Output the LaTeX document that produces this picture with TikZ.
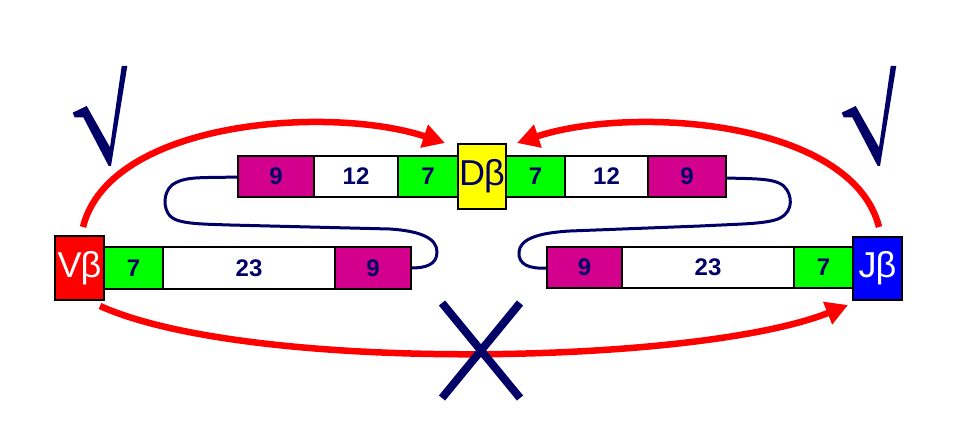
\documentclass[tikz,border=0pt]{standalone}
\usepackage{fontspec}
\setmainfont{Liberation Sans}
\usetikzlibrary{arrows.meta}
\definecolor{navy}{RGB}{0,0,102}
\definecolor{seg9}{RGB}{210,0,140}
\definecolor{segG}{RGB}{0,255,0}
\definecolor{redA}{RGB}{255,0,0}
\definecolor{blueJ}{RGB}{0,0,255}
\definecolor{yelD}{RGB}{255,255,0}
\begin{document}
\begin{tikzpicture}[x=1pt,y=-1pt,
  seg/.style={draw=black,line width=1.1pt,inner sep=0pt,outer sep=0pt,minimum height=42pt,
    text=navy,font=\fontsize{24}{24}\selectfont\bfseries},
  gene/.style={draw=black,line width=1.1pt,inner sep=0pt,outer sep=0pt,
    font=\fontsize{36}{36}\selectfont},
  loopline/.style={draw=navy,line width=3pt,line cap=round},
  redarrow/.style={draw=redA,line width=6.5pt,-{Triangle[length=22pt,width=23pt]}},
  checkmark/.style={fill=navy,draw=none},
  crossline/.style={draw=navy,line width=8pt}]
\useasboundingbox (0,0) rectangle (960,422);
% loops (behind boxes)
\draw[loopline] (238,177) .. controls (200,178) and (185,176) .. (172,185)
  .. controls (163,193) and (163,208) .. (170,216)
  .. controls (178,224) and (200,224) .. (230,225) -- (390,229)
  .. controls (420,231) and (437,238) .. (437,252)
  .. controls (437,265) and (425,268) .. (411,268);
\draw[loopline] (726,178) .. controls (760,179) and (780,178) .. (787,190)
  .. controls (793,200) and (792,215) .. (775,220)
  .. controls (760,224) and (740,224) .. (700,226) -- (570,231)
  .. controls (535,233) and (520,240) .. (519,252)
  .. controls (518,265) and (530,269) .. (547,268);
% left bottom row
\node[gene,fill=redA,text=white,minimum width=49pt,minimum height=64pt] (V) at (79.5,268) {V\kern-1pt β};
\node[seg,fill=segG,minimum width=59pt] (L7) at (133.5,268) {7};
\node[seg,fill=white,minimum width=172pt] (L23) at (249,268) {23};
\node[seg,fill=seg9,minimum width=76pt] (L9) at (373,268) {9};
% top row
\node[seg,fill=seg9,minimum width=76pt,minimum height=41pt] (T9a) at (276,176.5) {9};
\node[seg,fill=white,minimum width=84pt,minimum height=41pt] (T12a) at (356,176.5) {12};
\node[seg,fill=segG,minimum width=60pt,minimum height=41pt] (T7a) at (428,176.5) {7};
\node[seg,fill=segG,minimum width=59pt,minimum height=41pt] (T7b) at (535.5,176.5) {7};
\node[seg,fill=white,minimum width=83pt,minimum height=41pt] (T12b) at (606.5,176.5) {12};
\node[seg,fill=seg9,minimum width=78pt,minimum height=41pt] (T9b) at (687,176.5) {9};
\node[gene,fill=yelD,text=navy,minimum width=48pt,minimum height=65pt] (D) at (482,176.5) {D\kern-1pt β};
% right bottom row
\node[seg,fill=seg9,minimum width=75pt,minimum height=41pt] (R9) at (584.5,267.5) {9};
\node[seg,fill=white,minimum width=172pt,minimum height=41pt] (R23) at (708,267.5) {23};
\node[seg,fill=segG,minimum width=59pt,minimum height=41pt] (R7) at (823.5,267.5) {7};
\node[gene,fill=blueJ,text=white,minimum width=49pt,minimum height=63pt] (J) at (877.5,268.5) {J\kern-1pt β};
% red arrows
\coordinate (vs) at (83,227);
\coordinate (dl) at (445,143);
\coordinate (js) at (879,227);
\coordinate (dr) at (517,143);
\coordinate (vb) at (100,306);
\coordinate (jb) at (848,305);
\draw[redarrow] (vs) .. controls (110,120) and (330,105) .. (dl);
\draw[redarrow] (js) .. controls (852,120) and (632,105) .. (dr);
\draw[redarrow] (vb) .. controls (250,373.5) and (698,365) .. (jb);
% cross
\draw[crossline] (442,303) -- (520,398);
\draw[crossline] (520,303) -- (442,398);
% check marks
\fill[checkmark] (72.7,112.7) -- (86.7,106) -- (110,147.3) -- (121.7,66) -- (127.3,66)
  -- (111,166) -- (108.7,166) -- (83.3,117.3) -- (74.7,117.3) -- cycle;
\fill[checkmark] (841.7,112.7) -- (855.7,106) -- (879,147.3) -- (890.7,66) -- (896.3,66)
  -- (880,166) -- (877.7,166) -- (852.3,117.3) -- (843.7,117.3) -- cycle;
\end{tikzpicture}
\end{document}
